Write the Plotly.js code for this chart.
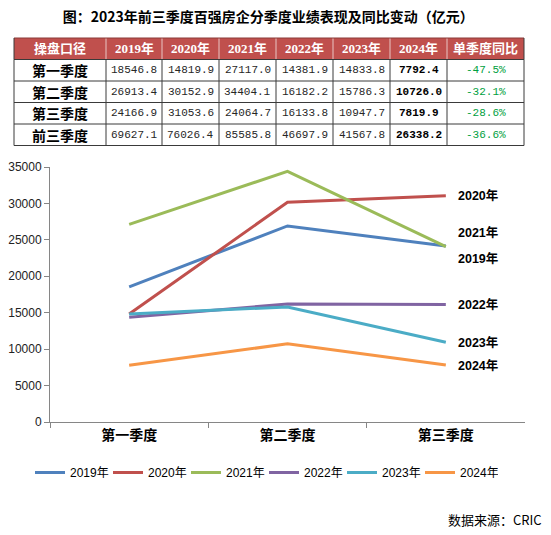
<!DOCTYPE html>
<html><head><meta charset="utf-8">
<script src="https://cdn.plot.ly/plotly-3.0.1.min.js"></script>
<style>html,body{margin:0;padding:0;background:#fff}</style>
</head><body>
<div id="chart" style="width:551px;height:535px"></div>
<script>
// ---- data ----
var rowLabels = ['第一季度', '第二季度', '第三季度', '前三季度'];
var quarters = ['第一季度', '第二季度', '第三季度'];
var years = ['2019年', '2020年', '2021年', '2022年', '2023年', '2024年'];
var v2019 = [18546.8, 26913.4, 24166.9, 69627.1];
var v2020 = [14819.9, 30152.9, 31053.6, 76026.4];
var v2021 = [27117.0, 34404.1, 24064.7, 85585.8];
var v2022 = [14381.9, 16182.2, 16133.8, 46697.9];
var v2023 = [14833.8, 15786.3, 10947.7, 41567.8];
var v2024 = [7792.4, 10726.0, 7819.9, 26338.2];
var yoy = ['-47.5%', '-32.1%', '-28.6%', '-36.6%'];
var headerLabels = ['操盘口径', '2019年', '2020年', '2021年', '2022年', '2023年', '2024年', '单季度同比'];
var yTicks = [0, 5000, 10000, 15000, 20000, 25000, 30000, 35000];

var series = [v2019, v2020, v2021, v2022, v2023, v2024];
var colors = ['#4F81BD', '#C0504D', '#9BBB59', '#8064A2', '#4BACC6', '#F79646'];
// pixel offsets for end labels that would otherwise overlap
var labelShift = [-13, 0, 14, 0, 0, 0];

// ---- layout geometry (pixels) ----
var W = 551, H = 535;
function px(x) { return x / W; }
function py(y) { return 1 - y / H; }
var tableLeft = 14, tableTop = 38, rowH = 21.5;
var colW = [92, 56, 57, 57, 57, 57, 57, 77];

var traces = [];
series.forEach(function (s, i) {
  traces.push({
    type: 'scatter', mode: 'lines', name: years[i],
    x: quarters, y: s.slice(0, 3),
    line: {color: colors[i], width: 3},
    hoverinfo: 'skip'
  });
});

// ---- table drawn with shapes + annotations ----
var shapes = [];
var annotations = [];
var colX = [tableLeft];
colW.forEach(function (w, i) { colX.push(colX[i] + w); });
var tableRight = colX[colX.length - 1];
var nRows = rowLabels.length + 1;

// header background
shapes.push({type: 'rect', xref: 'paper', yref: 'paper', layer: 'below',
  x0: px(tableLeft), x1: px(tableRight), y0: py(tableTop), y1: py(tableTop + rowH),
  fillcolor: '#C0504D', line: {width: 0}});
// header separators (light)
for (var c = 1; c < colW.length; c++) {
  shapes.push({type: 'line', xref: 'paper', yref: 'paper',
    x0: px(colX[c]), x1: px(colX[c]), y0: py(tableTop), y1: py(tableTop + rowH),
    line: {color: '#E9C6C5', width: 1}});
}
// body vertical lines
for (var c2 = 0; c2 <= colW.length; c2++) {
  shapes.push({type: 'line', xref: 'paper', yref: 'paper',
    x0: px(colX[c2]), x1: px(colX[c2]), y0: py(tableTop + rowH), y1: py(tableTop + nRows * rowH),
    line: {color: '#3a3a3a', width: 1}});
}
// horizontal lines
for (var r = 0; r <= nRows; r++) {
  shapes.push({type: 'line', xref: 'paper', yref: 'paper',
    x0: px(tableLeft), x1: px(tableRight), y0: py(tableTop + r * rowH), y1: py(tableTop + r * rowH),
    line: {color: r === 0 ? '#8a3a38' : '#3a3a3a', width: 1}});
}
// header outer sides
[tableLeft, tableRight].forEach(function (x) {
  shapes.push({type: 'line', xref: 'paper', yref: 'paper',
    x0: px(x), x1: px(x), y0: py(tableTop), y1: py(tableTop + rowH),
    line: {color: '#3a3a3a', width: 1}});
});

function cellText(col, row, text, font) {
  annotations.push({
    xref: 'paper', yref: 'paper',
    x: px((colX[col] + colX[col + 1]) / 2), y: py(tableTop + (row + 0.5) * rowH),
    xanchor: 'center', yanchor: 'middle', showarrow: false,
    text: text, font: font
  });
}
var cjk = 'Noto Sans CJK SC, sans-serif';
var mono = 'Liberation Mono, monospace';
headerLabels.forEach(function (t, c) {
  cellText(c, 0, '<b>' + t + '</b>', {family: 'Liberation Serif, Noto Sans CJK SC, serif', size: 13, color: '#fff'});
});
rowLabels.forEach(function (lab, r) {
  cellText(0, r + 1, '<b>' + lab + '</b>', {family: cjk, size: 14, color: '#000'});
  series.forEach(function (s, i) {
    var t = s[r].toFixed(1);
    cellText(i + 1, r + 1, i === 5 ? '<b>' + t + '</b>' : t,
      {family: mono, size: 11, color: i === 5 ? '#000' : '#262626'});
  });
  cellText(7, r + 1, yoy[r], {family: mono, size: 11, color: '#00A040'});
});

// ---- end labels ----
series.forEach(function (s, i) {
  annotations.push({
    xref: 'x', yref: 'y', x: quarters[2], y: s[2],
    text: '<b>' + years[i] + '</b>', showarrow: false,
    xanchor: 'left', yanchor: 'middle', xshift: 10, yshift: labelShift[i],
    font: {family: 'Liberation Sans, Noto Sans CJK SC, sans-serif', size: 12.5, color: '#000'}
  });
});
annotations.push({
  xref: 'paper', yref: 'paper', x: px(544), y: py(519),
  xanchor: 'right', yanchor: 'middle', showarrow: false,
  text: '数据来源：CRIC',
  font: {family: cjk, size: 13, color: '#000'}
});

var layout = {
  width: W, height: H,
  margin: {l: 0, r: 0, t: 0, b: 0},
  paper_bgcolor: '#fff', plot_bgcolor: '#fff',
  title: {
    text: '<b>图：2023年前三季度百强房企分季度业绩表现及同比变动（亿元）</b>',
    xref: 'paper', yref: 'paper',
    x: 0.487, xanchor: 'center', y: py(17), yanchor: 'middle',
    font: {family: cjk, size: 14, color: '#000'}
  },
  showlegend: true,
  legend: {
    orientation: 'h', x: px(30), y: py(458), xanchor: 'left', yanchor: 'top',
    font: {family: 'Liberation Sans, Noto Sans CJK SC, sans-serif', size: 12, color: '#000'},
    entrywidth: 33, entrywidthmode: 'pixels', itemwidth: 30
  },
  xaxis: {
    domain: [px(50), px(525)], type: 'category', range: [-0.5, 2.5],
    showline: true, linecolor: '#868686', linewidth: 1,
    ticks: 'outside', tickson: 'boundaries', ticklen: 5, tickcolor: '#868686',
    showgrid: false, zeroline: false, fixedrange: true, automargin: false,
    tickfont: {family: cjk, size: 14, color: '#000', weight: 'bold'}
  },
  yaxis: {
    domain: [py(422), py(167)], range: [0, 35000],
    tickvals: yTicks, ticktext: yTicks.map(String),
    showline: true, linecolor: '#868686', linewidth: 1,
    ticks: 'outside', ticklen: 5, tickcolor: '#868686',
    showgrid: false, zeroline: false, fixedrange: true, automargin: false,
    tickfont: {family: 'Liberation Sans, Arial, sans-serif', size: 12, color: '#222'}
  },
  shapes: shapes,
  annotations: annotations
};

Plotly.newPlot('chart', traces, layout, {displayModeBar: false, staticPlot: true});
</script>
</body></html>
